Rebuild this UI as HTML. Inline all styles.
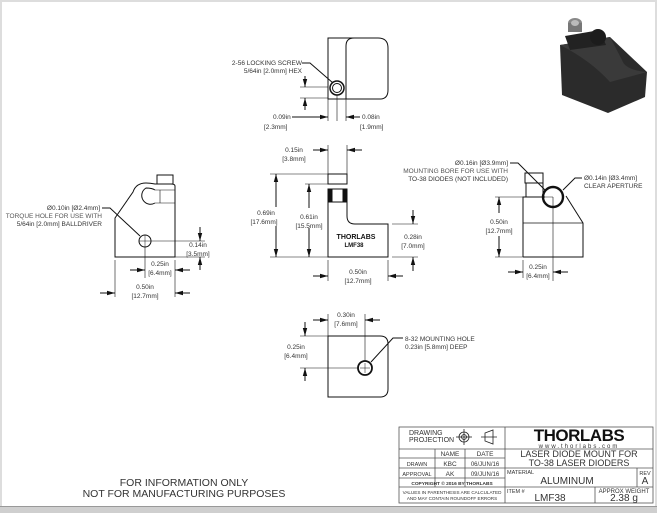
<!DOCTYPE html>
<html><head><meta charset="utf-8"><style>
html,body{margin:0;padding:0;background:#fff}
svg{display:block}
text{font-family:"Liberation Sans",sans-serif;fill:#333;font-size:6.5px}
.t{fill:#555}
</style></head><body>
<svg width="657" height="513" viewBox="0 0 657 513" xmlns="http://www.w3.org/2000/svg">
<defs>
<marker id="a" markerWidth="8" markerHeight="6" refX="8" refY="3" orient="auto" markerUnits="userSpaceOnUse"><path d="M0,0.8 L8,3 L0,5.2z" fill="#111"/></marker>
</defs>
<rect x="0" y="0" width="657" height="513" fill="#fff"/>
<rect x="0" y="0" width="657" height="2" fill="#ddd"/>
<rect x="0" y="0" width="2" height="513" fill="#ddd"/>
<rect x="655" y="0" width="2" height="513" fill="#ddd"/>
<rect x="0" y="506" width="657" height="7" fill="#cfcfcf"/>
<line x1="0" y1="506.5" x2="657" y2="506.5" stroke="#999"/>

<g stroke="#111" fill="none" stroke-width="1">
<!-- TOP VIEW -->
<path d="M328,38 L378,38 Q388,38 388,48 L388,90 Q388,99 380,99 L328,99 Z"/>
<path d="M346,99 L346,46 Q346,38 354,38"/>
<circle cx="337" cy="88" r="7" stroke-width="1.5"/>
<circle cx="337" cy="88" r="4.5"/>
<path d="M302,63 L310,63 L333,83" />
<line x1="300" y1="87" x2="328" y2="87" stroke-width="0.6"/>
<line x1="300" y1="98" x2="328" y2="98" stroke-width="0.6"/>
<line x1="305" y1="76" x2="305" y2="87" marker-end="url(#a)"/>
<line x1="305" y1="110" x2="305" y2="98" marker-end="url(#a)"/>
<line x1="328" y1="99" x2="328" y2="121" stroke-width="0.6"/>
<line x1="337" y1="95" x2="337" y2="121" stroke-width="0.6"/>
<line x1="346" y1="99" x2="346" y2="121" stroke-width="0.6"/>
<line x1="292" y1="117" x2="328" y2="117" marker-end="url(#a)"/>
<line x1="360" y1="117" x2="346" y2="117" marker-end="url(#a)"/>

<!-- LEFT SIDE VIEW -->
<path d="M115,257 L175,257 L175,186 Q175,184 171,184 L155,184 Q150,183 146,183 Q136,183 133,192 L115,218 Z"/>
<path d="M157,175 L173,175 L173,184 L157,184 Z"/>
<path d="M155,190 Q152,188 146,188 A8.5,8.5 0 1 0 155,203"/>
<line x1="155" y1="190" x2="175" y2="190" stroke-width="0.6"/>
<line x1="155" y1="203" x2="175" y2="203" stroke-width="0.6"/>
<line x1="160" y1="190" x2="160" y2="203" stroke-width="0.6"/>
<circle cx="145" cy="241" r="6"/>
<line x1="139" y1="241" x2="151" y2="241" stroke-width="0.5"/>
<line x1="145" y1="235" x2="145" y2="247" stroke-width="0.5"/>
<path d="M102,208 L110,208 L140,236"/>
<line x1="151" y1="241" x2="205" y2="241" stroke-width="0.6"/>
<line x1="175" y1="257" x2="205" y2="257" stroke-width="0.6"/>
<line x1="200" y1="227" x2="200" y2="241" marker-end="url(#a)"/>
<line x1="200" y1="270" x2="200" y2="257" marker-end="url(#a)"/>
<line x1="145" y1="247" x2="145" y2="278" stroke-width="0.6"/>
<line x1="115" y1="260" x2="115" y2="297" stroke-width="0.6"/>
<line x1="175" y1="260" x2="175" y2="297" stroke-width="0.6"/>
<line x1="130" y1="270" x2="145" y2="270" marker-end="url(#a)"/>
<line x1="190" y1="270" x2="175" y2="270" marker-end="url(#a)"/>
<line x1="100" y1="293" x2="115" y2="293" marker-end="url(#a)"/>
<line x1="190" y1="293" x2="175" y2="293" marker-end="url(#a)"/>

<!-- FRONT VIEW -->
<path d="M328,257 L388,257 L388,224 L355,224 Q347,224 347,216 L347,202 L328,202 Z"/>
<rect x="328" y="174" width="19" height="10"/>
<rect x="328" y="189" width="19" height="13"/>
<rect x="329" y="189" width="3" height="13" fill="#111"/>
<rect x="343" y="189" width="3" height="13" fill="#111"/>
<line x1="270" y1="174" x2="328" y2="174" stroke-width="0.6"/>
<line x1="270" y1="257" x2="328" y2="257" stroke-width="0.6"/>
<line x1="305" y1="184" x2="328" y2="184" stroke-width="0.6"/>
<line x1="276" y1="207" x2="276" y2="174" marker-end="url(#a)"/>
<line x1="276" y1="226" x2="276" y2="257" marker-end="url(#a)"/>
<line x1="309" y1="208" x2="309" y2="184" marker-end="url(#a)"/>
<line x1="309" y1="228" x2="309" y2="257" marker-end="url(#a)"/>
<line x1="328" y1="145" x2="328" y2="174" stroke-width="0.6"/>
<line x1="347" y1="145" x2="347" y2="174" stroke-width="0.6"/>
<line x1="313" y1="150" x2="328" y2="150" marker-end="url(#a)"/>
<line x1="362" y1="150" x2="347" y2="150" marker-end="url(#a)"/>
<line x1="392" y1="224" x2="418" y2="224" stroke-width="0.6"/>
<line x1="392" y1="257" x2="418" y2="257" stroke-width="0.6"/>
<line x1="413" y1="210" x2="413" y2="224" marker-end="url(#a)"/>
<line x1="413" y1="271" x2="413" y2="257" marker-end="url(#a)"/>
<line x1="328" y1="260" x2="328" y2="281" stroke-width="0.6"/>
<line x1="388" y1="260" x2="388" y2="281" stroke-width="0.6"/>
<line x1="313" y1="276" x2="328" y2="276" marker-end="url(#a)"/>
<line x1="403" y1="276" x2="388" y2="276" marker-end="url(#a)"/>

<!-- RIGHT SIDE VIEW -->
<path d="M523,257 L583,257 L583,223 L566,196 M523,257 L523,197 L545,197"/>
<rect x="525" y="173" width="18" height="10"/>
<rect x="526" y="183" width="17" height="14"/>
<line x1="523" y1="223" x2="583" y2="223" stroke-width="0.7"/>
<circle cx="553" cy="197" r="10" stroke-width="2.4"/>
<line x1="553" y1="197" x2="553" y2="281" stroke-width="0.6"/>
<line x1="495" y1="197" x2="553" y2="197" stroke-width="0.6"/>
<line x1="495" y1="257" x2="523" y2="257" stroke-width="0.6"/>
<line x1="499" y1="213" x2="499" y2="197" marker-end="url(#a)"/>
<line x1="499" y1="236" x2="499" y2="257" marker-end="url(#a)"/>
<line x1="523" y1="260" x2="523" y2="278" stroke-width="0.6"/>
<line x1="508" y1="272" x2="523" y2="272" marker-end="url(#a)"/>
<line x1="568" y1="272" x2="553" y2="272" marker-end="url(#a)"/>
<path d="M510,163 L518,163 L545,190"/>
<path d="M582,178 L575,178 L563,190"/>

<!-- BOTTOM VIEW -->
<path d="M328,336 L380,336 Q388,336 388,344 L388,389 Q388,397 380,397 L328,397 Z"/>
<circle cx="365" cy="368" r="7" stroke-width="1.8"/>
<line x1="360" y1="368" x2="370" y2="368" stroke-width="0.5"/>
<line x1="365" y1="363" x2="365" y2="373" stroke-width="0.5"/>
<line x1="328" y1="314" x2="328" y2="336" stroke-width="0.6"/>
<line x1="365" y1="314" x2="365" y2="361" stroke-width="0.6"/>
<line x1="313" y1="320" x2="328" y2="320" marker-end="url(#a)"/>
<line x1="380" y1="320" x2="365" y2="320" marker-end="url(#a)"/>
<line x1="300" y1="336" x2="328" y2="336" stroke-width="0.6"/>
<line x1="300" y1="368" x2="358" y2="368" stroke-width="0.6"/>
<line x1="305" y1="322" x2="305" y2="336" marker-end="url(#a)"/>
<line x1="305" y1="381" x2="305" y2="368" marker-end="url(#a)"/>
<path d="M403,338 L393,338 L371,362"/>
</g>

<!-- texts -->
<g text-anchor="end">
<text x="302" y="65">2-56 LOCKING SCREW</text>
<text x="302" y="73">5/64in [2.0mm] HEX</text>
<text x="100" y="210">Ø0.10in [Ø2.4mm]</text>
<text x="102" y="218" class="t">TORQUE HOLE FOR USE WITH</text>
<text x="102" y="226">5/64in [2.0mm] BALLDRIVER</text>
<text x="508" y="165">Ø0.16in [Ø3.9mm]</text>
<text x="508" y="173" class="t">MOUNTING BORE FOR USE WITH</text>
<text x="508" y="181">TO-38 DIODES (NOT INCLUDED)</text>
</g>
<text x="273" y="119">0.09in</text><text x="264" y="129">[2.3mm]</text>
<text x="362" y="119">0.08in</text><text x="360" y="129">[1.9mm]</text>
<text x="584" y="180">Ø0.14in [Ø3.4mm]</text>
<text x="584" y="188">CLEAR APERTURE</text>
<text x="405" y="341">8-32 MOUNTING HOLE</text>
<text x="405" y="349">0.23in [5.8mm] DEEP</text>
<g text-anchor="middle">
<text x="198" y="247">0.14in</text><text x="198" y="256">[3.5mm]</text>
<text x="160" y="266">0.25in</text><text x="160" y="275">[6.4mm]</text>
<text x="145" y="289">0.50in</text><text x="145" y="298">[12.7mm]</text>
<text x="294" y="152">0.15in</text><text x="294" y="161">[3.8mm]</text>
<text x="266" y="215">0.69in</text><text x="264" y="224">[17.6mm]</text>
<text x="309" y="219">0.61in</text><text x="309" y="228">[15.5mm]</text>
<text x="413" y="239">0.28in</text><text x="413" y="248">[7.0mm]</text>
<text x="358" y="274">0.50in</text><text x="358" y="283">[12.7mm]</text>
<text x="499" y="224">0.50in</text><text x="499" y="233">[12.7mm]</text>
<text x="538" y="269">0.25in</text><text x="538" y="278">[6.4mm]</text>
<text x="346" y="317">0.30in</text><text x="346" y="326">[7.6mm]</text>
<text x="296" y="349">0.25in</text><text x="296" y="358">[6.4mm]</text>
<text x="356" y="239" style="font-weight:bold;font-size:7px;fill:#111">THORLABS</text>
<text x="354" y="247" style="font-weight:bold;font-size:6px;fill:#111">LMF38</text>
<text x="184" y="486" style="font-size:10.5px">FOR INFORMATION ONLY</text>
<text x="184" y="497" style="font-size:10.5px">NOT FOR MANUFACTURING PURPOSES</text>
</g>

<!-- photo -->
<g>
<path d="M560,45 L610,37 L647,72 L645,97 L608,113 L562,95 Z" fill="#2b2b2b"/>
<path d="M560,45 L610,37 L622,60 Q625,70 647,72 L610,82 Q590,60 560,45Z" fill="#3a3a3a"/>
<path d="M565,36 L600,30 L606,45 L570,50 Z" fill="#222"/>
<circle cx="598" cy="37" r="8" fill="#1c1c1c"/>
<ellipse cx="575" cy="23" rx="7" ry="5" fill="#888"/>
<rect x="568" y="23" width="14" height="9" fill="#777"/>
<ellipse cx="575" cy="23" rx="4" ry="3" fill="#bbb"/>
</g>

<!-- title block -->
<g stroke="#555" fill="none" stroke-width="0.8">
<rect x="399" y="427" width="254" height="76"/>
<line x1="505" y1="427" x2="505" y2="503"/>
<line x1="399" y1="449" x2="653" y2="449"/>
<line x1="399" y1="458" x2="505" y2="458"/>
<line x1="399" y1="468" x2="653" y2="468"/>
<line x1="399" y1="478" x2="505" y2="478"/>
<line x1="399" y1="487" x2="653" y2="487"/>
<line x1="435" y1="449" x2="435" y2="487"/>
<line x1="465" y1="449" x2="465" y2="487"/>
<line x1="637" y1="468" x2="637" y2="487"/>
<line x1="595" y1="487" x2="595" y2="503"/>
<circle cx="464" cy="437" r="5" stroke="#222"/>
<circle cx="464" cy="437" r="2.5" stroke="#222"/>
<line x1="456" y1="437" x2="472" y2="437" stroke="#222"/>
<line x1="464" y1="429" x2="464" y2="445" stroke="#222"/>
<path d="M485,433 L493,430 L493,444 L485,441 Z M481,437 L497,437" stroke="#222"/>
</g>
<text x="409" y="435" style="font-size:7px">DRAWING</text>
<text x="409" y="442" style="font-size:7px">PROJECTION</text>
<g text-anchor="middle" style="font-size:6.5px">
<text x="450" y="456">NAME</text><text x="485" y="456">DATE</text>
<text x="417" y="466" style="font-size:5.5px">DRAWN</text><text x="450" y="466">KBC</text><text x="485" y="466" style="font-size:6px">06/JUN/16</text>
<text x="417" y="476" style="font-size:5.5px">APPROVAL</text><text x="450" y="476">AK</text><text x="485" y="476" style="font-size:6px">09/JUN/16</text>
<text x="452" y="485" style="font-size:4.8px;font-weight:bold">COPYRIGHT © 2016 BY THORLABS</text>
<text x="452" y="494" style="font-size:4.6px">VALUES IN PARENTHESIS ARE CALCULATED</text>
<text x="452" y="500" style="font-size:4.6px">AND MAY CONTAIN ROUNDOFF ERRORS</text>
<text x="579" y="441" style="font-size:17px;font-weight:bold;fill:#111;letter-spacing:-0.5px">THORLABS</text>
<text x="579" y="448" style="font-size:6px;letter-spacing:2px">www.thorlabs.com</text>
<text x="579" y="457" style="font-size:9px">LASER DIODE MOUNT FOR</text>
<text x="579" y="466" style="font-size:9px">TO-38 LASER DIODERS</text>
<text x="567" y="484" style="font-size:10px">ALUMINUM</text>
<text x="645" y="484" style="font-size:10px">A</text>
<text x="645" y="475" style="font-size:5.5px">REV</text>
<text x="550" y="501" style="font-size:10px">LMF38</text>
<text x="624" y="501" style="font-size:10px">2.38 g</text>
<text x="624" y="493" style="font-size:6px">APPROX WEIGHT</text>
</g>
<text x="507" y="474" style="font-size:5.5px">MATERIAL</text>
<text x="507" y="493" style="font-size:5.5px">ITEM #</text>
</svg>
</body></html>
